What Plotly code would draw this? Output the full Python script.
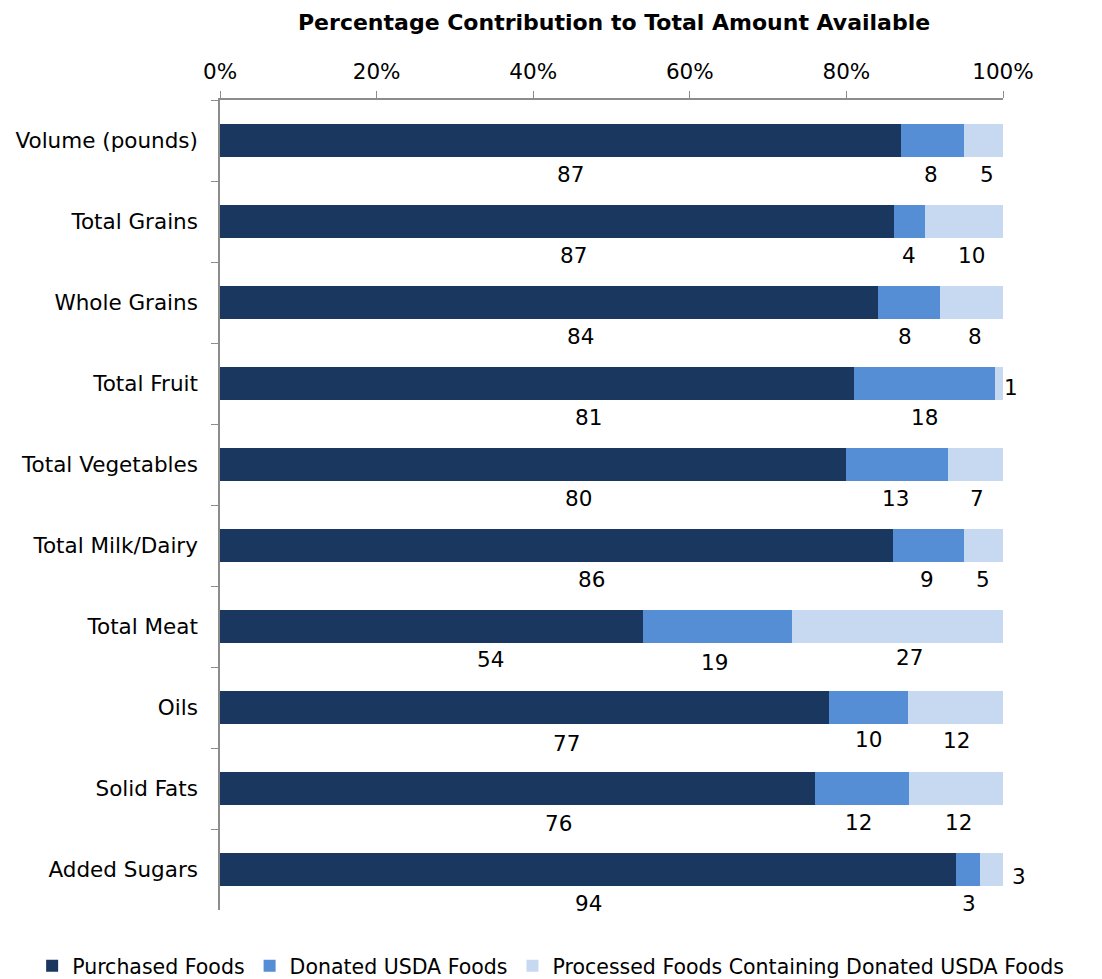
import plotly.graph_objects as go

categories = ["Volume (pounds)", "Total Grains", "Whole Grains", "Total Fruit",
              "Total Vegetables", "Total Milk/Dairy", "Total Meat", "Oils",
              "Solid Fats", "Added Sugars"]
purchased = [87, 87, 84, 81, 80, 86, 54, 77, 76, 94]
donated = [8, 4, 8, 18, 13, 9, 19, 10, 12, 3]
processed = [5, 10, 8, 1, 7, 5, 27, 12, 12, 3]

series_names = ["Purchased Foods", "Donated USDA Foods",
                "Processed Foods Containing Donated USDA Foods"]
series_values = [purchased, donated, processed]
colors = ["#1a375f", "#558ed5", "#c6d9f1"]

# label placement (percent along axis, pixel shifts) -- layout only
label_x = [
    [44.8, 45.2, 46.1, 47.0, 45.8, 47.4, 34.5, 44.2, 43.2, 47.0],
    [90.8, 88.0, 87.5, 90.0, 86.3, 90.3, 63.1, 82.8, 81.5, 95.7],
    [98.0, 96.0, 96.4, 100.0, 96.7, 97.4, 88.1, 94.1, 94.3, 100.0],
]
label_dx = [
    [0] * 10,
    [0] * 10,
    [0, 0, 0, 8, 0, 0, 0, 0, 0, 16],
]
label_dy = [
    [-34, -34, -34, -34, -34, -34, -33, -36, -35, -34],
    [-34, -34, -34, -34, -34, -34, -36, -32, -34, -34],
    [-34, -34, -34, -4, -34, -34, -31, -33, -34, -7],
]

FONT = "DejaVu Sans"
FS = 21.5
fig = go.Figure()
for name, vals, col in zip(series_names, series_values, colors):
    fig.add_trace(go.Bar(
        y=categories, x=vals, name=name, orientation="h",
        marker=dict(color=col, line=dict(width=0)),
        hoverinfo="x+y+name",
    ))

annotations = []
for s, vals in enumerate(series_values):
    for i, v in enumerate(vals):
        annotations.append(dict(
            x=label_x[s][i], y=categories[i], xref="x", yref="y",
            text=str(v), showarrow=False, xshift=label_dx[s][i], yshift=label_dy[s][i],
            font=dict(family=FONT, size=FS, color="#000000"),
        ))

# page body adds an 8px offset; figure sized so that plot area lands at
# x 220..1003 px, y 100..910 px on screen
W, H = 1094, 971
L, R, T, B = 212, 0, 92, 69
n = len(categories)
fig.update_layout(
    width=W, height=H,
    barmode="stack", barnorm="percent", bargap=0.6,
    paper_bgcolor="white", plot_bgcolor="white",
    margin=dict(l=L, r=R, t=T, b=B, autoexpand=False),
    font=dict(family=FONT, size=FS, color="#000000"),
    title=dict(text="<b>Percentage Contribution to Total Amount Available</b>",
               x=0.554, xanchor="center", y=0.9856, yanchor="middle",
               font=dict(family=FONT, size=22, color="#000000")),
    xaxis=dict(side="top", range=[0, 100], domain=[0, 783 / (W - L - R)],
               tickvals=[0, 20, 40, 60, 80, 100],
               ticktext=["0%", "20%", "40%", "60%", "80%", "100%"],
               showgrid=False, zeroline=False, showline=True, linecolor="#8c8c8c",
               linewidth=1.5, ticks="outside", ticklen=7, tickcolor="#8c8c8c",
               ticklabelstandoff=4,
               tickfont=dict(family=FONT, size=FS)),
    yaxis=dict(categoryorder="array", categoryarray=categories,
               range=[n - 0.5, -0.5], autorange=False,
               showgrid=False, zeroline=False, showline=True, linecolor="#8c8c8c",
               linewidth=1.5, ticks="outside", ticklen=7, tickcolor="#8c8c8c",
               tickson="boundaries", ticklabelstandoff=16,
               tickfont=dict(family=FONT, size=FS)),
    legend=dict(orientation="h", x=-0.213, xanchor="left", y=-0.069, yanchor="middle",
                font=dict(family=FONT, size=20.5), itemwidth=30, traceorder="normal",
                bgcolor="rgba(0,0,0,0)"),
    annotations=annotations,
)

fig.write_html("out.html")
